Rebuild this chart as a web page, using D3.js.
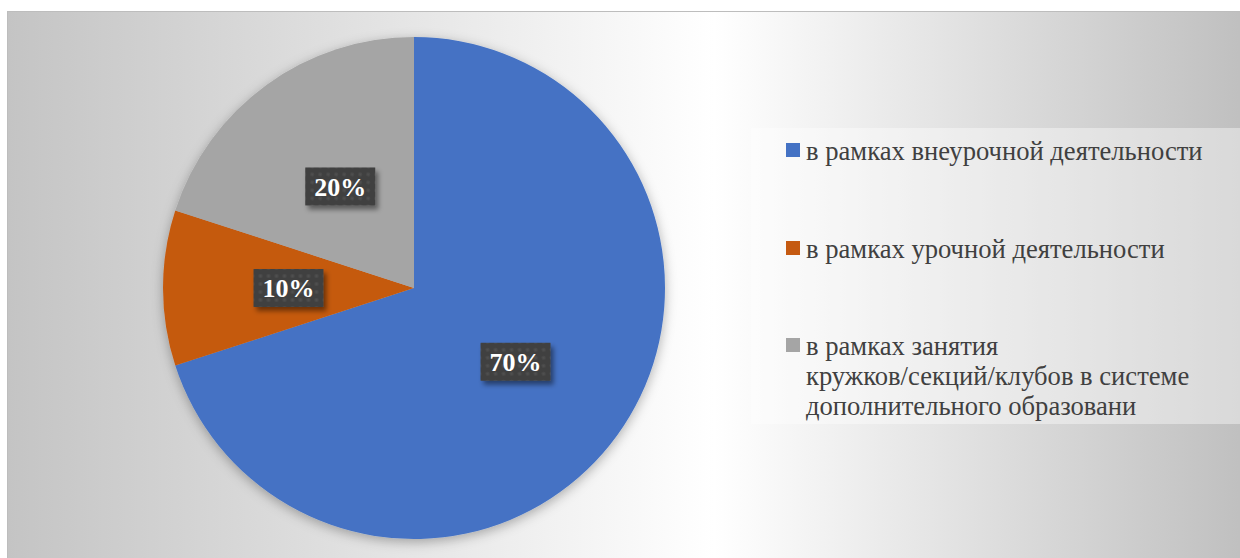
<!DOCTYPE html>
<html><head><meta charset="utf-8">
<script src="https://cdnjs.cloudflare.com/ajax/libs/d3/7.8.5/d3.min.js"></script>
<style>html,body{margin:0;padding:0;background:#fff;}svg{display:block;}</style>
</head><body>
<svg id="chart" width="1240" height="558"></svg>
<script>
const categories = [
  "в рамках внеурочной деятельности",
  "в рамках урочной деятельности",
  "в рамках занятия кружков/секций/клубов в системе дополнительного образовани"
];
const legendLines = [
  ["в рамках внеурочной деятельности"],
  ["в рамках урочной деятельности"],
  ["в рамках занятия", "кружков/секций/клубов в системе", "дополнительного образовани"]
];
const values = [70, 10, 20];
const labels = ["70%", "10%", "20%"];
const colors = ["#4472C4", "#C55A11", "#A5A5A5"];

const svg = d3.select("#chart");
const defs = svg.append("defs");

const bg = defs.append("linearGradient").attr("id", "bg").attr("x1", 0).attr("x2", 1).attr("y1", 0).attr("y2", 0);
bg.append("stop").attr("offset", 0).attr("stop-color", "#c4c4c4");
bg.append("stop").attr("offset", 0.57).attr("stop-color", "#ffffff");
bg.append("stop").attr("offset", 1).attr("stop-color", "#bfbfbf");

const pieShadow = defs.append("filter").attr("id", "pieShadow").attr("x", "-20%").attr("y", "-20%").attr("width", "140%").attr("height", "140%");
pieShadow.append("feDropShadow").attr("dx", 0).attr("dy", 3).attr("stdDeviation", 6).attr("flood-color", "#000").attr("flood-opacity", 0.3);

const boxShadow = defs.append("filter").attr("id", "boxShadow").attr("x", "-30%").attr("y", "-30%").attr("width", "160%").attr("height", "160%");
boxShadow.append("feDropShadow").attr("dx", 3).attr("dy", 4).attr("stdDeviation", 2.5).attr("flood-color", "#000").attr("flood-opacity", 0.45);

const pat = defs.append("pattern").attr("id", "dots").attr("patternUnits", "userSpaceOnUse").attr("width", 8).attr("height", 8);
pat.append("rect").attr("width", 8).attr("height", 8).attr("fill", "#404040");
pat.append("rect").attr("x", 2.5).attr("y", 2.5).attr("width", 3).attr("height", 3).attr("fill", "#505050");

// chart area
svg.append("rect").attr("x", 7.5).attr("y", 11.5).attr("width", 1240).attr("height", 560)
  .attr("fill", "url(#bg)").attr("stroke", "#bdbdbd").attr("stroke-width", 1);

const cx = 414, cy = 288, r = 251;
const pie = d3.pie().sort(null).value(d => d)(values);
const arc = d3.arc().innerRadius(0).outerRadius(r);

const g = svg.append("g").attr("transform", `translate(${cx},${cy})`);
g.append("g").attr("filter", "url(#pieShadow)")
  .selectAll("path").data(pie).join("path")
  .attr("d", arc).attr("fill", (d, i) => colors[i]);

const lab = g.selectAll("g.lab").data(pie).join("g").attr("class", "lab")
  .attr("transform", d => `translate(${arc.centroid(d)})`);
lab.append("rect").attr("x", -35).attr("y", -19).attr("width", 70).attr("height", 38)
  .attr("fill", "url(#dots)").attr("filter", "url(#boxShadow)");
lab.append("text").attr("text-anchor", "middle").attr("dy", "0.36em")
  .attr("font-family", "'Liberation Serif','Times New Roman',serif").attr("font-weight", "bold")
  .attr("font-size", 26).attr("fill", "#fff").text((d, i) => labels[i]);

// legend
svg.append("rect").attr("x", 751).attr("y", 128).attr("width", 489).attr("height", 296)
  .attr("fill", "#ffffff").attr("fill-opacity", 0.4);
const itemY = [160, 258, 355];
const leg = svg.selectAll("g.leg").data(categories).join("g").attr("class", "leg")
  .attr("transform", (d, i) => `translate(786,${itemY[i]})`);
leg.append("rect").attr("x", 0).attr("y", -17).attr("width", 14).attr("height", 14)
  .attr("fill", (d, i) => colors[i]);
leg.append("text").attr("x", 20)
  .attr("font-family", "'Liberation Serif','Times New Roman',serif").attr("font-size", 26.6)
  .attr("fill", "#404040")
  .selectAll("tspan").data((d, i) => legendLines[i]).join("tspan")
  .attr("x", 20).attr("y", (d, j) => j * 30).text(d => d);
</script>
</body></html>
